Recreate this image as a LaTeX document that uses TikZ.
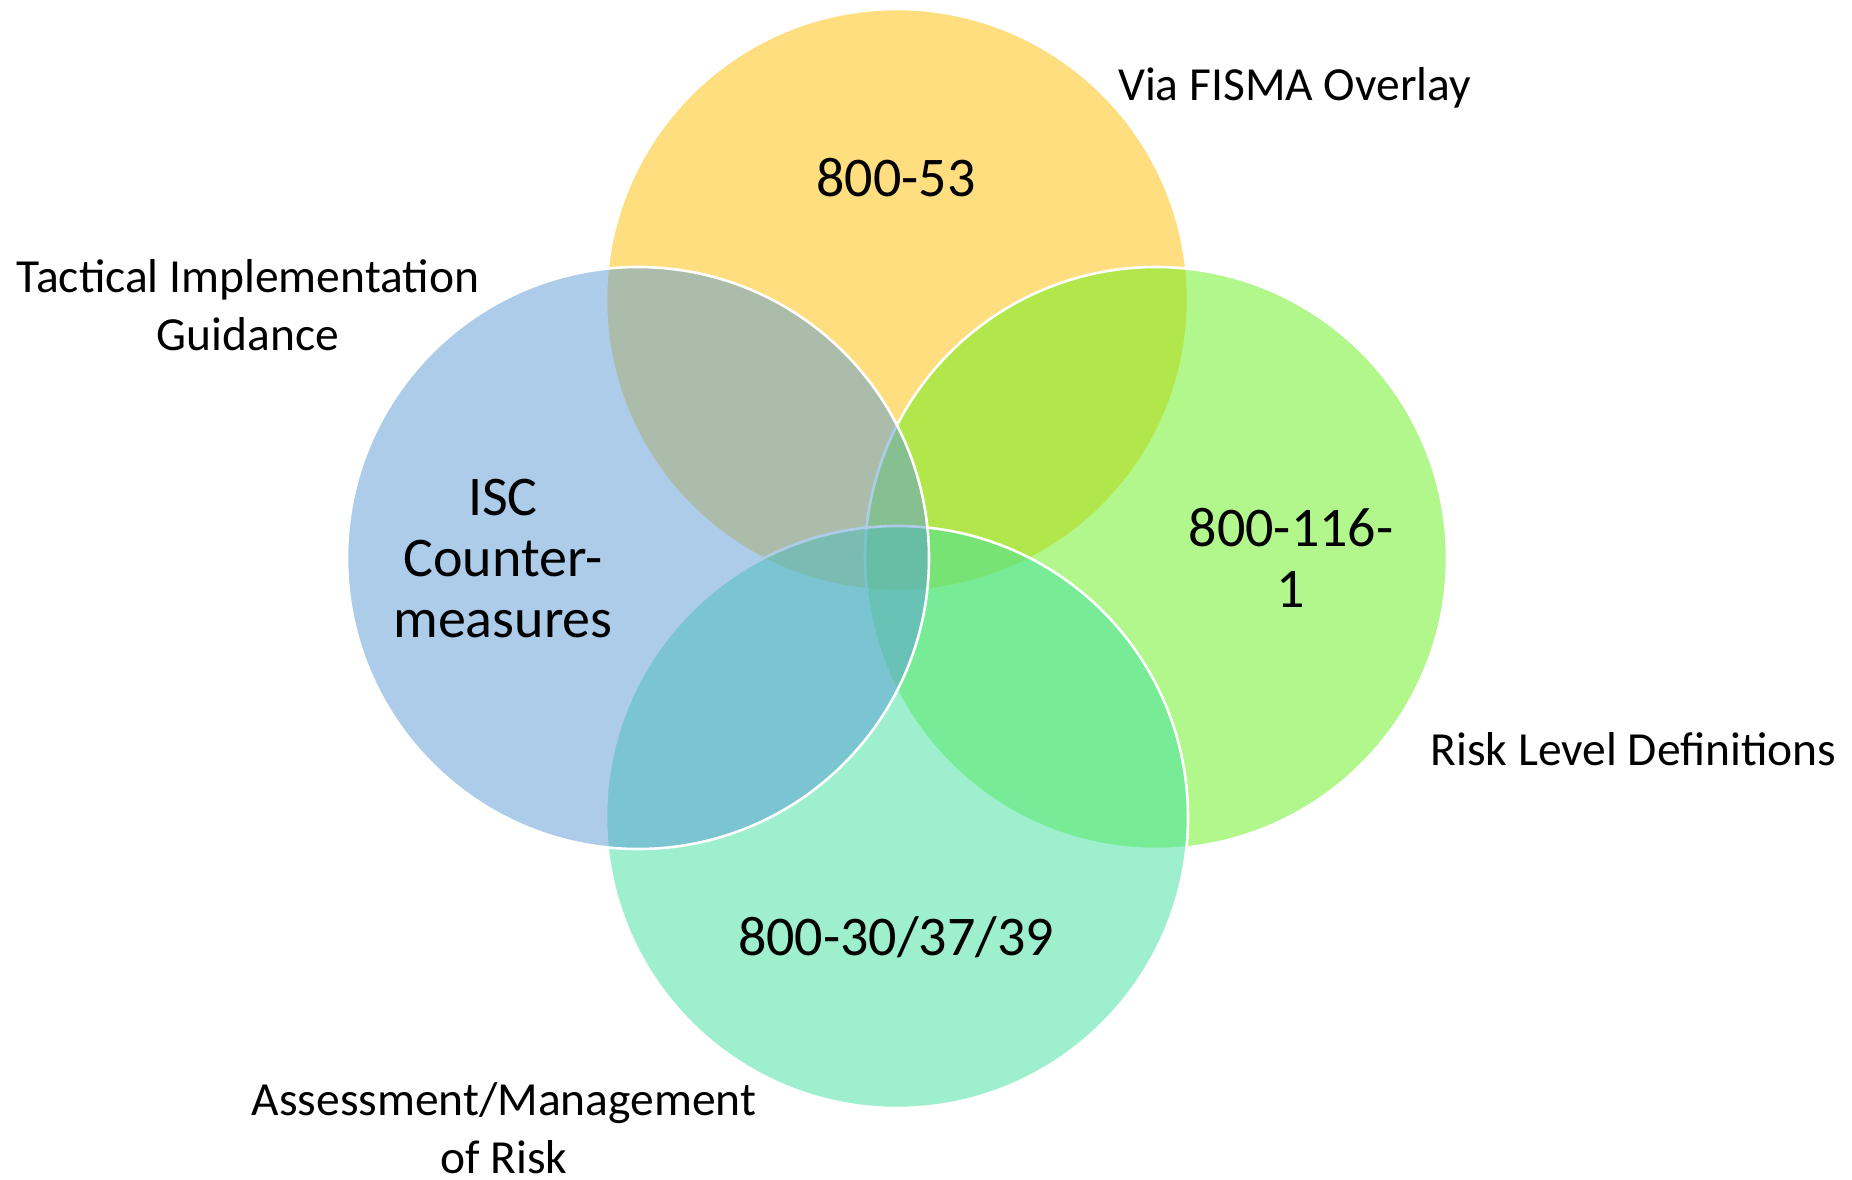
\documentclass[tikz,border=0pt]{standalone}
\usepackage{fontspec}
\setmainfont{Carlito}
\definecolor{cyellow}{RGB}{255,190,0}
\definecolor{cblue}{RGB}{91,155,213}
\definecolor{cgreen}{RGB}{102,240,26}
\definecolor{cteal}{RGB}{61,225,159}
\tikzset{
  venn/.style={draw=white, line width=1.3pt, fill opacity=0.5},
  bigtxt/.style={font=\fontsize{28pt}{30.5pt}\selectfont, align=center, inner sep=0pt, text=black},
  lbltxt/.style={font=\fontsize{23.75pt}{29pt}\selectfont, align=center, inner sep=0pt, text=black}
}
\begin{document}
\begin{tikzpicture}[x=0.5pt,y=-0.5pt]
\useasboundingbox (0,0) rectangle (1852,1179);
\fill[white] (0,0) rectangle (1852,1179);
\coordinate (ct) at (897,300);
\coordinate (cl) at (638,558);
\coordinate (cr) at (1156,558);
\coordinate (cb) at (897,817);
\path[venn, fill=cyellow] (ct) circle[radius=145.5pt];
\path[venn, fill=cgreen] (cr) circle[radius=145.5pt];
\path[venn, fill=cteal] (cb) circle[radius=145.5pt];
\path[venn, fill=cblue] (cl) circle[radius=145.5pt];
\node[bigtxt, anchor=base] (t53) at (896,196) {800-53};
\node[bigtxt] (tisc) at (503,559) {ISC\\Counter-\\measures};
\node[bigtxt] (t116) at (1291,558) {800-116-\\1};
\node[bigtxt, anchor=base] (t30) at (896,955) {800-30/37/39};
\node[lbltxt, anchor=base] (lfisma) at (1294.5,100) {Via FISMA Overlay};
\node[lbltxt] (ltact) at (248,305) {Tactical Implementation\\Guidance};
\node[lbltxt, anchor=base] (lrisk) at (1633.5,765) {Risk Level Definitions};
\node[lbltxt] (lassess) at (504,1128) {Assessment/Management\\of Risk};
\end{tikzpicture}
\end{document}
